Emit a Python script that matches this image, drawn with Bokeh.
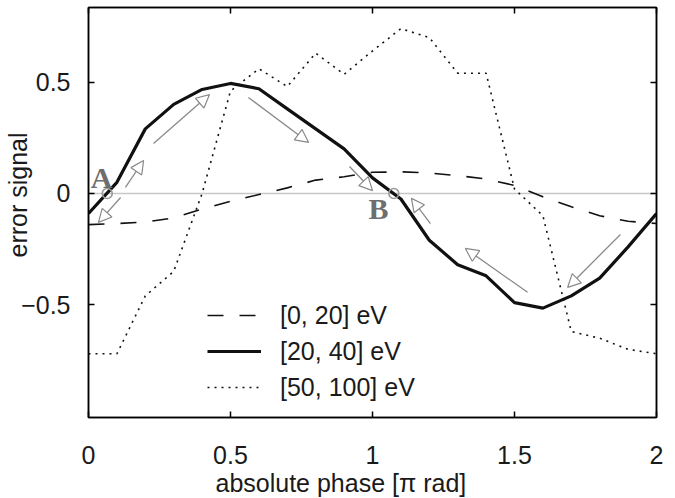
from bokeh.plotting import figure
from bokeh.models import (LinearAxis, FixedTicker, CustomJSTickFormatter, Span, Title,
                          Legend, LegendItem, Arrow, NormalHead, Range1d, ColumnDataSource)
from bokeh.embed import file_html
from bokeh.resources import INLINE
from bokeh.core.properties import value

# ---------------- data ----------------
phase = [0.0, 0.1, 0.2, 0.3, 0.4, 0.5, 0.6, 0.7, 0.8, 0.9, 1.0,
         1.1, 1.2, 1.3, 1.4, 1.5, 1.6, 1.7, 1.8, 1.9, 2.0]
err_0_20 = [-0.14, -0.135, -0.128, -0.11, -0.07, -0.035, -0.005, 0.025, 0.06, 0.075, 0.095,
            0.097, 0.092, 0.08, 0.065, 0.036, -0.015, -0.06, -0.10, -0.125, -0.135]
err_20_40 = [-0.09, 0.05, 0.29, 0.40, 0.467, 0.494, 0.47, 0.38, 0.29, 0.20, 0.07,
             -0.025, -0.21, -0.32, -0.37, -0.49, -0.515, -0.46, -0.38, -0.24, -0.09]
err_50_100 = [-0.72, -0.72, -0.46, -0.35, 0.0, 0.46, 0.56, 0.48, 0.63, 0.535, 0.64,
              0.74, 0.70, 0.54, 0.54, 0.02, -0.10, -0.62, -0.65, -0.70, -0.72]
series_labels = ["[0, 20] eV", "[20, 40] eV", "[50, 100] eV"]

x_ticks = [0, 0.5, 1, 1.5, 2]
y_ticks = [-0.5, 0, 0.5]
x_title = "absolute phase [\u03c0 rad]"
y_title = "error signal"

point_names = ["A", "B"]
point_x = [0.066, 1.075]
point_y = [0.0, 0.0]
name_x = [0.046, 1.021]
name_y = [0.072, -0.067]

arrow_x0 = [0.113, 0.130, 0.229, 0.563, 0.919, 1.204, 1.546, 1.873]
arrow_y0 = [-0.018, 0.027, 0.224, 0.431, 0.121, -0.135, -0.444, -0.184]
arrow_x1 = [0.035, 0.194, 0.426, 0.775, 1.000, 1.137, 1.327, 1.687]
arrow_y1 = [-0.130, 0.148, 0.444, 0.229, 0.013, -0.022, -0.247, -0.422]

# ---------------- figure ----------------
FONT = "Liberation Sans"
TXT = "#1a1a1a"

p = figure(width=675, height=498, output_backend="svg", toolbar_location=None,
           x_range=Range1d(0, 2), y_range=Range1d(-1.006, 0.835),
           x_axis_type=None, y_axis_type=None,
           min_border_left=88, min_border_right=19, min_border_top=7, min_border_bottom=81)
p.xgrid.visible = False
p.ygrid.visible = False
p.outline_line_color = "black"
p.outline_line_width = 1.5
p.background_fill_color = "white"
p.border_fill_color = "white"

fmt = CustomJSTickFormatter(code="return tick < 0 ? '\\u2212' + (-tick) : '' + tick;")


def make_axis(ticks, show_labels, standoff):
    ax = LinearAxis(ticker=FixedTicker(ticks=ticks), formatter=fmt)
    ax.major_tick_in = 6
    ax.major_tick_out = 0
    ax.minor_tick_line_color = None
    ax.major_tick_line_width = 1.5
    ax.major_tick_line_color = "black"
    ax.axis_line_width = 1.5
    ax.axis_line_color = "black"
    ax.major_label_standoff = standoff
    if show_labels:
        ax.major_label_text_font_size = "25px"
        ax.major_label_text_font = FONT
        ax.major_label_text_color = TXT
    else:
        ax.major_label_text_color = None
    return ax


p.add_layout(make_axis(x_ticks, True, 28), "below")
p.add_layout(make_axis(y_ticks, True, 18), "left")
p.add_layout(make_axis(x_ticks, False, 0), "above")
p.add_layout(make_axis(y_ticks, False, 0), "right")

# axis titles (as side-panel titles so they can be offset like the original)
p.add_layout(Title(text=x_title, align="left", offset=127, vertical_align="bottom",
                   standoff=1, text_font_size="25px", text_font=FONT,
                   text_font_style="normal", text_color=TXT), "below")
p.add_layout(Title(text=y_title, align="left", offset=160, vertical_align="bottom",
                   standoff=-26, text_font_size="25px", text_font=FONT,
                   text_font_style="normal", text_color=TXT), "left")

# zero line
p.add_layout(Span(location=0, dimension="width", line_color="#c8c8c8",
                  line_width=1.5, level="underlay"))

r1 = p.line(phase, err_0_20, line_color="#111111", line_width=1.6, line_dash="16 16")
r2 = p.line(phase, err_20_40, line_color="#111111", line_width=3.2)
r3 = p.line(phase, err_50_100, line_color="#111111", line_width=1.6, line_dash="2 5")

# arrows
asrc = ColumnDataSource(dict(x0=arrow_x0, y0=arrow_y0, x1=arrow_x1, y1=arrow_y1))
p.add_layout(Arrow(source=asrc, x_start="x0", y_start="y0", x_end="x1", y_end="y1",
                   line_color="#8a8a8a", line_width=1.3,
                   end=NormalHead(size=13, fill_color="white", line_color="#8a8a8a",
                                  line_width=1.2)))

# points A and B
p.scatter(point_x, point_y, marker="circle", size=10, fill_color=None,
          line_color="#9a9a9a", line_width=1.6)
p.text(x=name_x, y=name_y, text=point_names, text_font=value("Liberation Serif"),
       text_font_style="bold", text_font_size="30px", text_color="#6e6e6e",
       text_align="center", text_baseline="alphabetic")

# legend
legend = Legend(items=[LegendItem(label=series_labels[0], renderers=[r1]),
                       LegendItem(label=series_labels[1], renderers=[r2]),
                       LegendItem(label=series_labels[2], renderers=[r3])],
                location=(119, 12), glyph_width=54, glyph_height=36, label_height=36,
                spacing=0, padding=0, margin=0, label_standoff=19,
                label_text_font_size="25px", label_text_font=FONT, label_text_color=TXT,
                background_fill_alpha=0, border_line_alpha=0)
p.add_layout(legend)

open("out.html", "w").write(file_html(p, INLINE))
